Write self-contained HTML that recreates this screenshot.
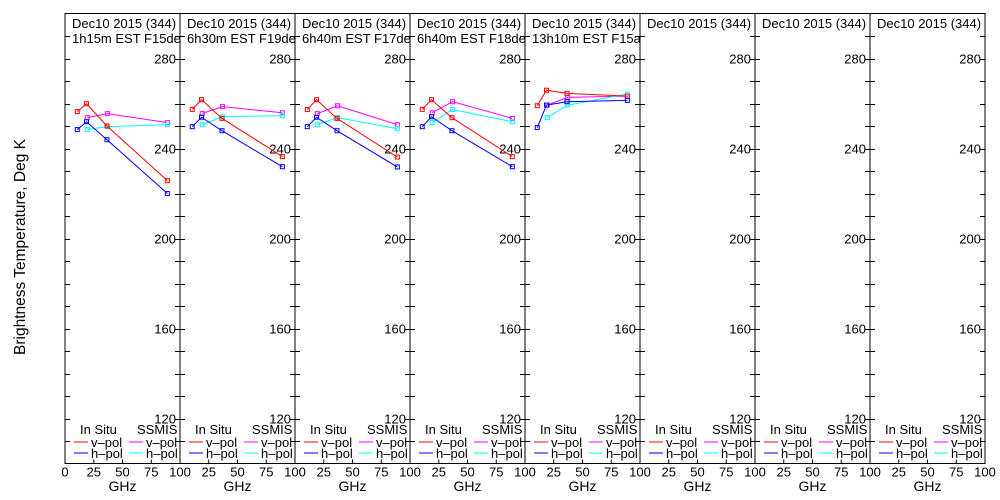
<!DOCTYPE html>
<html><head><meta charset="utf-8">
<style>
body{margin:0;background:#fff;}
svg{display:block;font-family:"Liberation Sans",sans-serif;}
</style></head>
<body>
<svg id="chart" width="1000" height="500" xmlns="http://www.w3.org/2000/svg">
<rect x="0" y="0" width="1000" height="500" fill="#fff"/>
<text x="0" y="0" transform="translate(25,247) rotate(-90)" text-anchor="middle" font-size="15.5">Brightness Temperature, Deg K</text>
</svg>
<script>
const panelTitles = ["1h15m EST F15desc","6h30m EST F19desc","6h40m EST F17desc","6h40m EST F18desc","13h10m EST F15asc","","",""];
const inSituFreq = [10.65, 18.7, 36.5, 89];
const ssmisFreq = [19.35, 37, 89];
const inSituV = [[256.4,259.9,250,225.7],[257.4,261.7,253.4,236.4],[257.3,261.7,253.4,236.2],[257.4,261.7,253.7,236.4],[259,265.9,264.5,263.3],null,null,null];
const inSituH = [[248.4,251.9,243.9,220],[249.7,253.9,247.9,231.9],[249.7,253.9,247.9,231.8],[249.7,254.1,247.9,231.9],[249.3,259.3,260.8,261.4],null,null,null];
const ssmisV = [[253.7,255.5,251.5],[255.6,258.6,255.9],[255.5,259,250.6],[255.9,260.8,253.4],[259.3,262.7,263.3],null,null,null];
const ssmisH = [[248.4,249.7,250.6],[250.6,254.1,254.6],[250.6,253.7,248.8],[251.5,257.3,251.9],[253.7,259.3,264.2],null,null,null];
const yTicks = [120,160,200,240,280];
const xTicks = [0,25,50,75,100];

const NS="http://www.w3.org/2000/svg";
const svg=document.getElementById('chart');
const P0=65, PW=115, TOP=13.5, BOT=463.5;
function yS(v){return BOT-(v-100)*(BOT-TOP)/200;}
function mk(tag,attrs,parent){const e=document.createElementNS(NS,tag);for(const k in attrs)e.setAttribute(k,attrs[k]);(parent||svg).appendChild(e);return e;}
const defs=mk('defs',{});
for(let p=0;p<8;p++){
  const x0=P0+p*PW;
  const xS=f=>x0+f*PW/100;
  const g=mk('g',{});
  
  
  const cp=mk('clipPath',{id:'cp'+p},defs);
  mk('rect',{x:x0,y:TOP,width:PW,height:BOT-TOP},cp);
  const fr=mk('rect',{x:x0,y:TOP,width:PW,height:BOT-TOP,fill:'none',stroke:'#000','stroke-width':1},g);
  
  
  for(let v=110;v<=290;v+=10){
    const y=Math.round(yS(v))+0.5;
    mk('line',{x1:x0,x2:x0+5,y1:y,y2:y,stroke:'#000'},g);
    mk('line',{x1:x0+PW-5,x2:x0+PW,y1:y,y2:y,stroke:'#000'},g);
  }
  yTicks.forEach(v=>{
    const t=mk('text',{x:x0+PW-4,y:yS(v)+5,'text-anchor':'end','font-size':13},g);
    t.textContent=v;
    
    
  });
  xTicks.forEach(f=>{
    if(p>0&&f===0)return;
    const x=xS(f);
    mk('line',{x1:x,x2:x,y1:BOT,y2:BOT-4,stroke:'#000'},g);
    const t=mk('text',{x:x,y:BOT+13,'text-anchor':'middle','font-size':13},g);
    t.textContent=f;
    
    
  });
  const xl=mk('text',{x:x0+PW/2,y:491,'text-anchor':'middle','font-size':14},g);
  xl.textContent='GHz';
  
  
  const cg=mk('g',{'clip-path':'url(#cp'+p+')'},g);
  const t1=mk('text',{x:x0+7,y:28,'font-size':13},cg);
  t1.textContent='Dec10 2015 (344)';
  
  
  if(panelTitles[p]){
    const t2=mk('text',{x:x0+7,y:43,'font-size':13},cg);
    t2.textContent=panelTitles[p];
    
    
  }
  const lg=mk('g',{},g);
  
  
  const h1=mk('text',{x:x0+15,y:434,'font-size':13},lg);h1.textContent='In Situ';
  const h2=mk('text',{x:x0+72,y:434,'font-size':13},lg);h2.textContent='SSMIS';
  [[0,'#f00','#f0f','v\u2013pol'],[1,'#00f','#0ff','h\u2013pol']].forEach(([r,c1,c2,lab])=>{
    const y=442+r*11;
    mk('line',{x1:x0+9,x2:x0+23,y1:y,y2:y,stroke:c1},lg);
    const a=mk('text',{x:x0+26,y:y+5,'font-size':13},lg);a.textContent=lab;
    mk('line',{x1:x0+64,x2:x0+78,y1:y,y2:y,stroke:c2},lg);
    const b=mk('text',{x:x0+81,y:y+5,'font-size':13},lg);b.textContent=lab;
  });
  const series=[[ssmisV[p],ssmisFreq,'#f0f','ssmis-vpol'],[ssmisH[p],ssmisFreq,'#0ff','ssmis-hpol'],[inSituV[p],inSituFreq,'#f00','insitu-vpol'],[inSituH[p],inSituFreq,'#00f','insitu-hpol']];
  series.forEach(([vals,fr,col,name])=>{
    if(!vals)return;
    const pts=vals.map((v,i)=>[xS(fr[i]),yS(v)]);
    const pl=mk('polyline',{points:pts.map(q=>q.join(',')).join(' '),fill:'none',stroke:col,'stroke-width':1},g);
    
    
    pts.forEach(q=>{
      const r=mk('rect',{x:q[0]-2,y:q[1]-2,width:4,height:4,fill:'none',stroke:col,'stroke-width':1},g);
      
      
    });
  });
}
</script>
</body></html>
